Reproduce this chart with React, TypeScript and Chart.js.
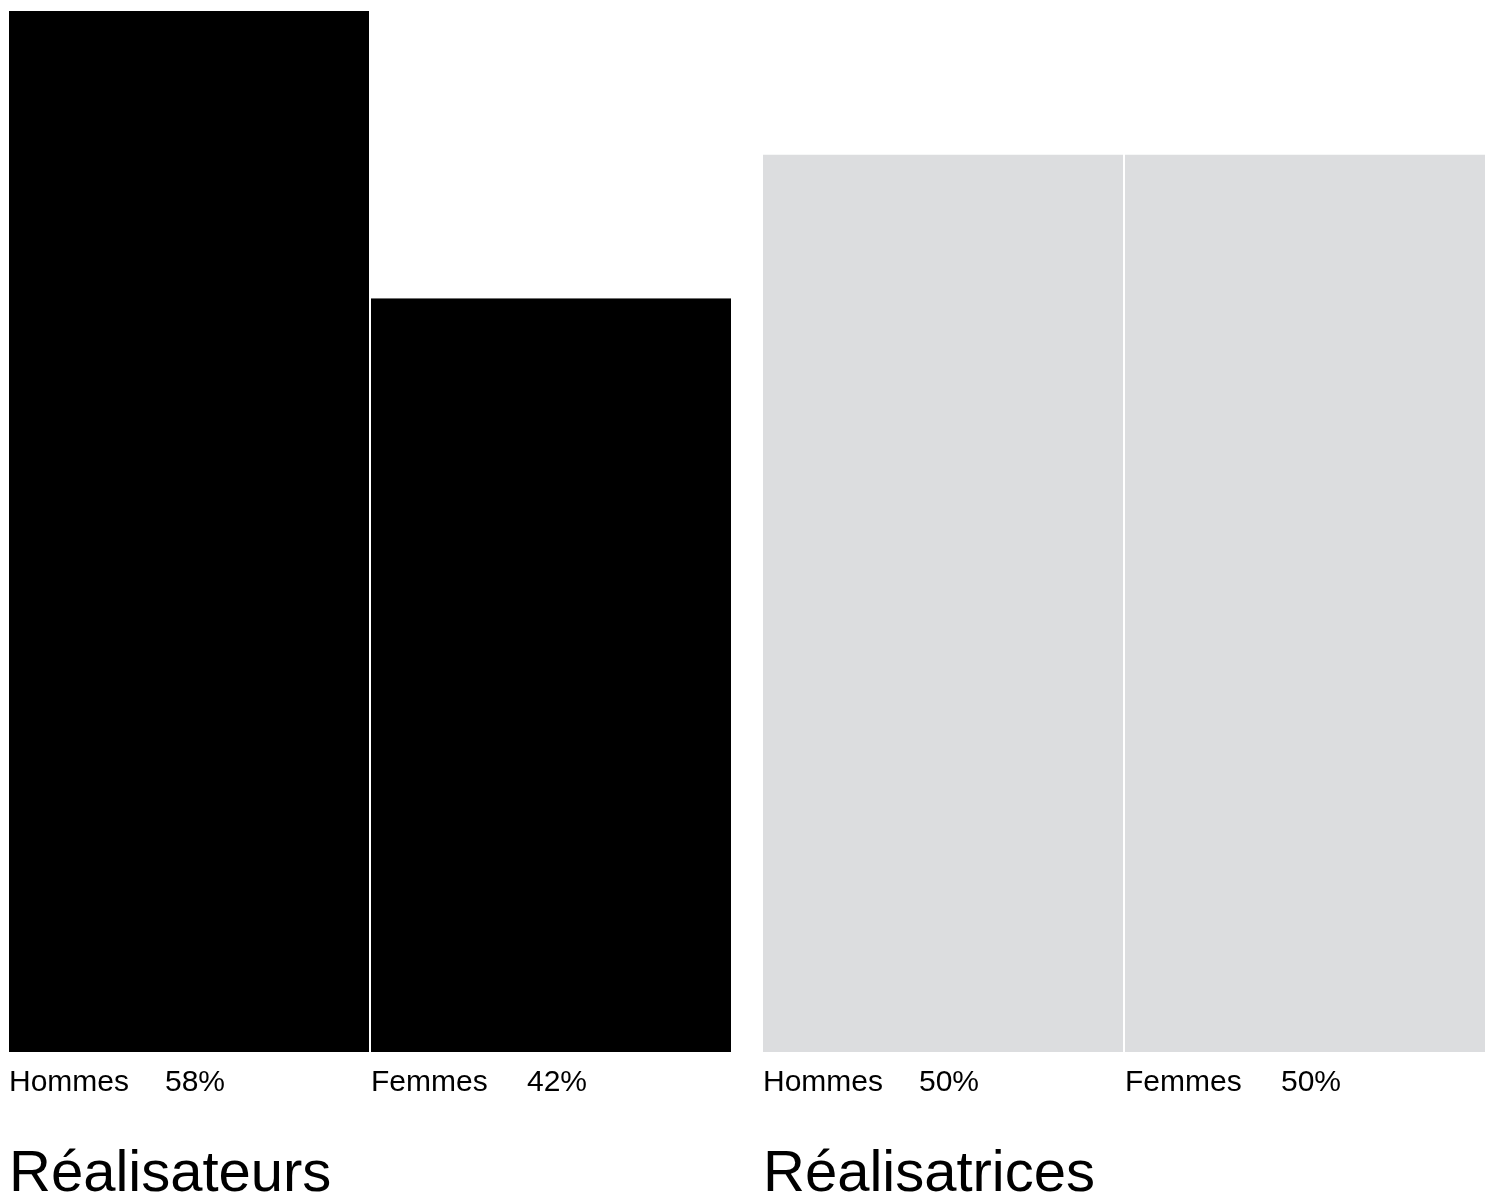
import React, { useEffect, useRef } from "react";
import { Chart, registerables } from "chart.js";

Chart.register(...registerables);

const groupTitles = ["Réalisateurs", "Réalisatrices"];
const genderLabels = ["Hommes", "Femmes"];
const realisateursValues = [58, 42];
const realisatricesValues = [50, 50];
const groupColors = ["#000000", "#dcdddf"];
const percentSuffix = "%";

const allValues = [...realisateursValues, ...realisatricesValues];
const yMax = Math.max(...allValues);

const FONT = '"Liberation Sans", Arial, Helvetica, sans-serif';

const labelPlugin = {
  id: "barLabels",
  afterDraw(chart: any, _args: any, opts: any) {
    const ctx = chart.ctx;
    ctx.save();
    ctx.fillStyle = "#000";
    ctx.textBaseline = "alphabetic";
    ctx.textAlign = "left";
    chart.data.datasets.forEach((ds: any, i: number) => {
      const meta = chart.getDatasetMeta(i);
      const el = meta.data[0];
      if (!el) return;
      const props = el.getProps(["x", "width", "base"], true);
      const left = props.x - props.width / 2 + (i === 0 ? 0 : 1);
      ctx.font = `30px ${FONT}`;
      ctx.fillText(ds.label, left, props.base + 39);
      ctx.fillText(`${ds.data[0]}${percentSuffix}`, left + 156, props.base + 39);
    });
    ctx.font = `58px ${FONT}`;
    ctx.fillText(opts.title, chart.chartArea.left, chart.chartArea.bottom + 139);
    ctx.restore();
  },
};

function GroupChart({ title, values, color }: { title: string; values: number[]; color: string }) {
  const ref = useRef<HTMLCanvasElement>(null);
  useEffect(() => {
    const chart = new Chart(ref.current!, {
      type: "bar",
      data: {
        labels: [title],
        datasets: genderLabels.map((g, i) => ({
          label: g,
          data: [values[i]],
          backgroundColor: color,
          borderColor: "#ffffff",
          borderWidth: i === 0 ? { left: 0, right: 1, top: 0, bottom: 0 } : { left: 1, right: 0, top: 0, bottom: 0 },
          borderSkipped: false,
          inflateAmount: 0,
          barPercentage: 1,
          categoryPercentage: 1,
        })),
      },
      options: {
        animation: false,
        responsive: false,
        maintainAspectRatio: false,
        devicePixelRatio: 1,
        layout: { padding: { top: 11, bottom: 148, left: 0, right: 0 } },
        plugins: {
          legend: { display: false },
          tooltip: { enabled: false },
          barLabels: { title },
        } as any,
        scales: {
          x: { display: false, offset: true },
          y: { display: false, min: 0, max: yMax },
        },
      },
      plugins: [labelPlugin],
    });
    return () => chart.destroy();
  }, [title, values, color]);
  return <canvas ref={ref} width={722} height={1200} style={{ width: 722, height: 1200, display: "block" }} />;
}

export default function App() {
  const groups = [realisateursValues, realisatricesValues];
  const lefts = [9, 763];
  return (
    <div style={{ position: "absolute", left: 0, top: 0, width: 1491, height: 1200, background: "#fff", overflow: "hidden" }}>
      {groups.map((vals, gi) => (
        <div key={gi} style={{ position: "absolute", left: lefts[gi], top: 0, width: 722, height: 1200 }}>
          <GroupChart title={groupTitles[gi]} values={vals} color={groupColors[gi]} />
        </div>
      ))}
    </div>
  );
}
